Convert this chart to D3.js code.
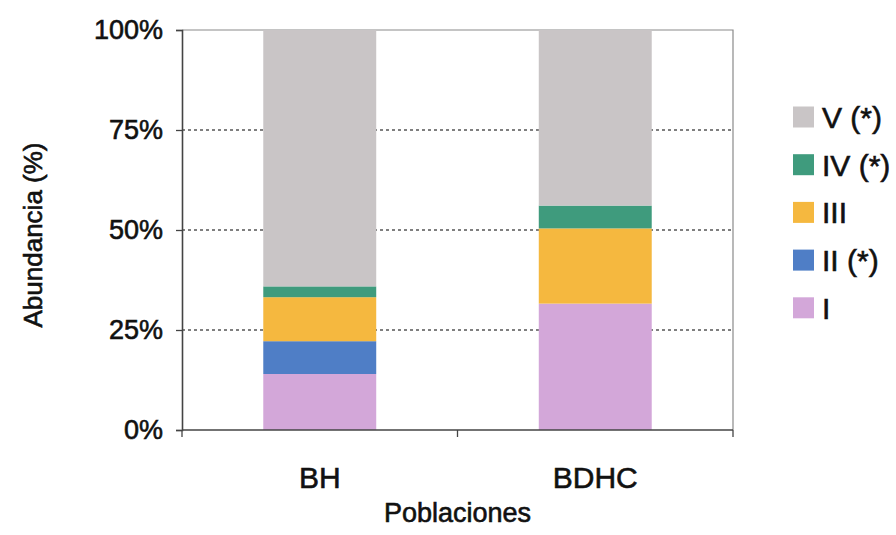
<!DOCTYPE html>
<html>
<head>
<meta charset="utf-8">
<script src="https://cdn.jsdelivr.net/npm/d3@7"></script>
<style>
  body { margin: 0; background: #fff; }
  svg { font-family: 'Liberation Sans', Arial, sans-serif; }
  svg text { stroke: #111; stroke-width: 0.6px; }
</style>
</head>
<body>
<div id="chart"></div>
<script>
// data (percent of each population)
const categories = ['BH', 'BDHC'];
const seriesNames = ['I', 'II (*)', 'III', 'IV (*)', 'V (*)'];
const valuesI = [14.0, 31.6];
const valuesII = [8.2, 0];
const valuesIII = [11.0, 18.8];
const valuesIV = [2.7, 5.7];
const valuesV = [64.1, 43.9];
const yTicks = [0, 25, 50, 75, 100];
const colors = ['#d3a7d9', '#4f7ec6', '#f5b83f', '#3f9b7d', '#c9c5c6'];

const width = 896;
const height = 535;
const margin = { top: 30, right: 163, bottom: 105, left: 182 };
const plotW = width - margin.left - margin.right;
const plotH = height - margin.top - margin.bottom;

const table = categories.map((c, i) => ({
  cat: c,
  'I': valuesI[i],
  'II (*)': valuesII[i],
  'III': valuesIII[i],
  'IV (*)': valuesIV[i],
  'V (*)': valuesV[i],
}));

const stacked = d3.stack().keys(seriesNames)(table);

const x = d3.scaleBand()
  .domain(categories)
  .range([0, plotW])
  .paddingInner(0.59)
  .paddingOuter(0.295);

const y = d3.scaleLinear()
  .domain([0, 100])
  .range([plotH, 0]);

const color = d3.scaleOrdinal().domain(seriesNames).range(colors);

const svg = d3.select('#chart').append('svg')
  .attr('width', width)
  .attr('height', height);

const g = svg.append('g')
  .attr('transform', `translate(${margin.left},${margin.top})`);

// dotted gridlines
g.append('g')
  .selectAll('line')
  .data(yTicks.filter(d => d > 0 && d < 100))
  .enter().append('line')
    .attr('x1', 0)
    .attr('x2', plotW)
    .attr('y1', d => y(d))
    .attr('y2', d => y(d))
    .attr('stroke', '#555')
    .attr('stroke-width', 1.4)
    .attr('stroke-dasharray', '3,3');

// top and right border
g.append('path')
  .attr('d', `M0,${y(100)}H${plotW}V${y(0)}`)
  .attr('fill', 'none')
  .attr('stroke', '#8a8a8a')
  .attr('stroke-width', 1.2);

// bars
g.selectAll('.series')
  .data(stacked)
  .enter().append('g')
    .attr('class', 'series')
    .attr('fill', d => color(d.key))
  .selectAll('rect')
  .data(d => d)
  .enter().append('rect')
    .attr('x', d => x(d.data.cat))
    .attr('width', x.bandwidth())
    .attr('y', d => y(d[1]))
    .attr('height', d => y(d[0]) - y(d[1]));

// y axis
const yAxis = d3.axisLeft(y)
  .tickValues(yTicks)
  .tickFormat(d => d + '%')
  .tickSize(6)
  .tickPadding(13);

const yG = g.append('g').call(yAxis);
yG.select('.domain').attr('stroke', '#444').attr('stroke-width', 1.6);
yG.selectAll('.tick line').attr('stroke', '#444').attr('stroke-width', 1.3);
yG.selectAll('.tick text')
  .attr('fill', '#111')
  .style('font-size', '27px');

// x axis: ticks between categories
const xG = g.append('g').attr('transform', `translate(0,${plotH})`);
xG.append('line')
  .attr('x1', 0)
  .attr('x2', plotW)
  .attr('stroke', '#444')
  .attr('stroke-width', 1.6);
xG.selectAll('.sep')
  .data([0, plotW / 2, plotW])
  .enter().append('line')
    .attr('class', 'sep')
    .attr('x1', d => d)
    .attr('x2', d => d)
    .attr('y1', 0)
    .attr('y2', 7)
    .attr('stroke', '#444')
    .attr('stroke-width', 1.3);
xG.selectAll('.cat')
  .data(categories)
  .enter().append('text')
    .attr('class', 'cat')
    .attr('x', d => x(d) + x.bandwidth() / 2)
    .attr('y', 58)
    .attr('text-anchor', 'middle')
    .attr('fill', '#111')
    .style('font-size', '30px')
    .text(d => d);

// axis titles
svg.append('text')
  .attr('x', margin.left + plotW / 2)
  .attr('y', 522)
  .attr('text-anchor', 'middle')
  .attr('fill', '#111')
  .style('font-size', '27px')
  .text('Poblaciones');

svg.append('text')
  .attr('transform', `translate(42,${margin.top + plotH / 2 + 5}) rotate(-90)`)
  .attr('text-anchor', 'middle')
  .attr('fill', '#111')
  .style('font-size', '26px')
  .text('Abundancia (%)');

// legend, top to bottom V .. I
const legend = svg.append('g')
  .attr('transform', 'translate(793,117)');

const item = legend.selectAll('.item')
  .data(seriesNames.slice().reverse())
  .enter().append('g')
    .attr('class', 'item')
    .attr('transform', (d, i) => `translate(0,${i * 47.7})`);

item.append('rect')
  .attr('x', 0)
  .attr('y', -10.5)
  .attr('width', 21)
  .attr('height', 21)
  .attr('fill', d => color(d));

item.append('text')
  .attr('x', 29)
  .attr('y', 0)
  .attr('dy', '0.36em')
  .attr('fill', '#111')
  .style('font-size', '30px')
  .text(d => d);
</script>
</body>
</html>
